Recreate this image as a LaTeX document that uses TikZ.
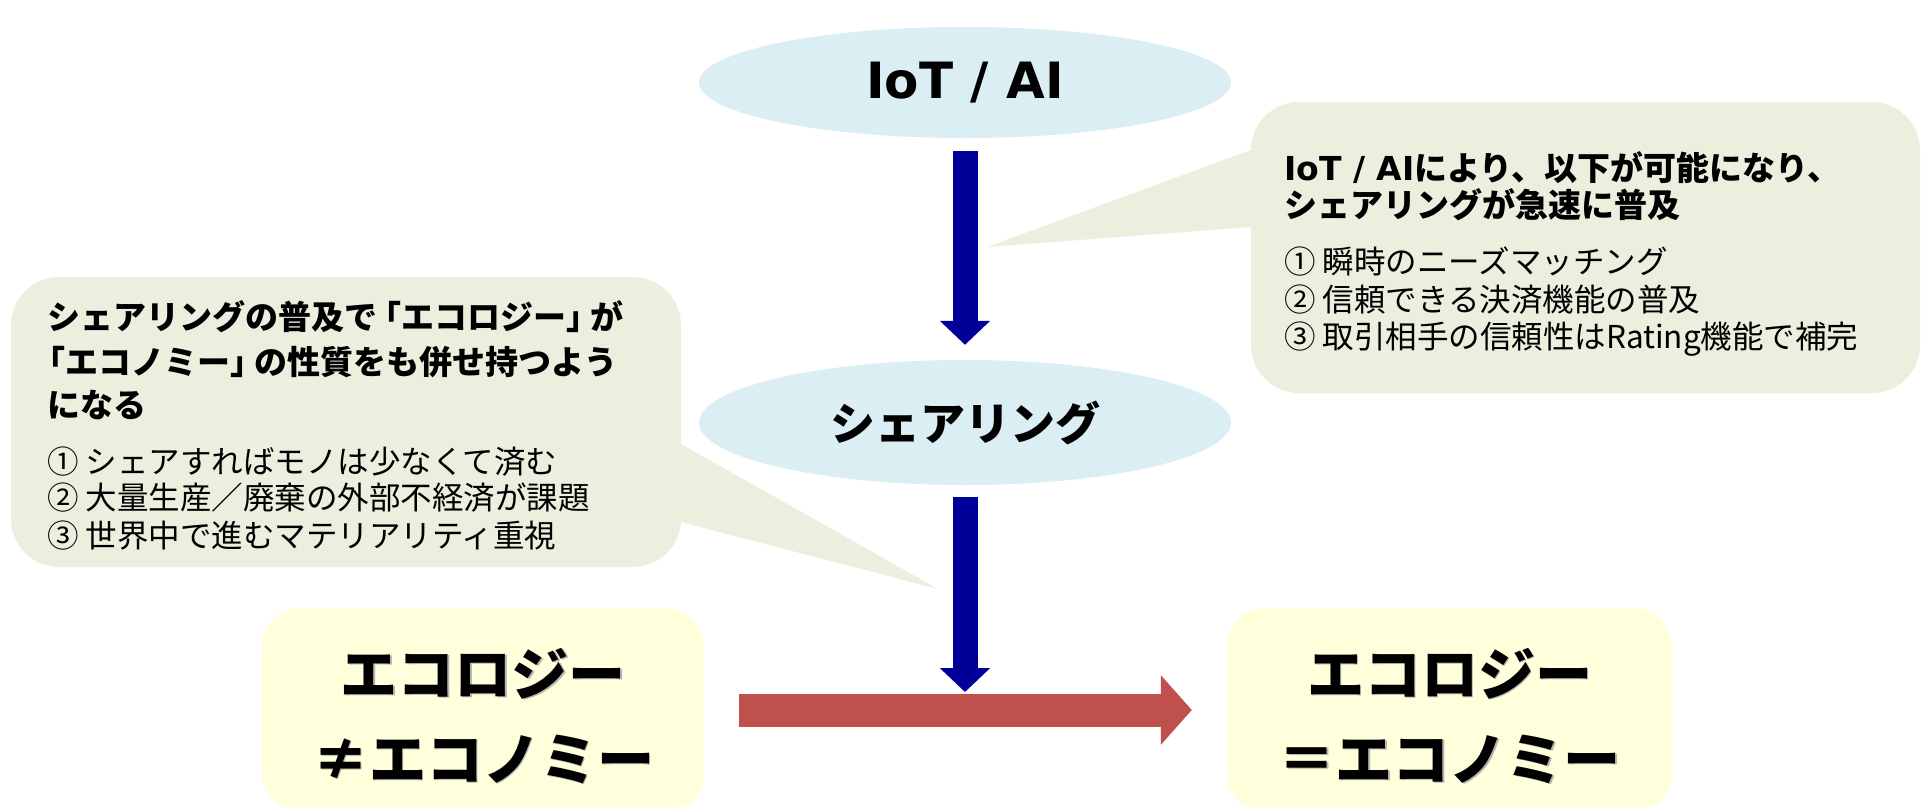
\documentclass[tikz,border=0pt]{standalone}
\usepackage{fontspec}
\setmainfont{Noto Sans CJK JP}
\newfontfamily\latinb{DejaVu Sans}
\usetikzlibrary{shapes.geometric,arrows.meta}

\definecolor{ellblue}{HTML}{DAEEF3}
\definecolor{callfill}{HTML}{EBEFDE}
\definecolor{ecofill}{HTML}{FFFFDC}
\definecolor{navyc}{HTML}{000099}
\definecolor{redc}{HTML}{C0504D}
\definecolor{shadowc}{HTML}{B4B4B4}

\newcommand\fsz[2]{\fontsize{#1pt}{#2pt}\selectfont}
% tighter corner brackets inside running text
\newcommand\lbr{\kern-9pt「}
\newcommand\rbr{」\kern-9pt}
% text with a soft grey drop shadow
\newcommand\shtext[1]{\rlap{\kern1.5pt\raisebox{-1.5pt}{\textcolor{shadowc}{#1}}}#1}

\begin{document}
\begin{tikzpicture}[x=1pt,y=-1pt,
  bubble/.style={ellipse, fill=ellblue, minimum width=532pt, inner sep=0pt},
  callout/.style={rectangle, rounded corners=48pt, fill=callfill, inner sep=0pt},
  tail/.style={fill=callfill, rounded corners=3pt},
  ecobox/.style={rectangle, rounded corners=38pt, fill=ecofill,
    minimum width=442pt, minimum height=204pt, inner sep=0pt,
    align=center, font=\bfseries\fsz{57}{85}},
  head/.style={anchor=base west, inner sep=0pt, font=\bfseries\fsz{33}{40}},
  item/.style={anchor=base west, inner sep=0pt, font=\fsz{31.5}{37}},
  bluearrow/.style={draw=navyc, line width=25pt, -{Triangle[width=49pt,length=24pt]}},
  redarrow/.style={draw=redc, line width=33pt, -{Triangle[width=68pt,length=31pt]}}]

\useasboundingbox (0,0) rectangle (1927,806);
\clip (0,0) rectangle (1927,806);

% the two stages as ellipses
\node[bubble, minimum height=111pt, font=\latinb\bfseries\fsz{50}{50}] (iot) at (965,82.5) {IoT / AI};
\node[bubble, minimum height=125pt, font=\bfseries\fsz{45}{45}] (share) at (965,422.5) {シェアリング};

% outcome boxes (bottom edge runs off the page)
\node[ecobox] (ecoL) at (483,710) {\rule{0pt}{60pt}\shtext{エコロジー}\\\shtext{≠エコノミー}};
\node[ecobox, minimum width=445pt] (ecoR) at (1449.5,710) {\rule{0pt}{60pt}\shtext{エコロジー}\\\shtext{＝エコノミー}};

% flow arrows
\coordinate (meet) at (965,692);
\draw[bluearrow] ([yshift=-13pt]iot.south) -- ([yshift=15pt]share.north);
\draw[bluearrow] ([yshift=-12pt]share.south) -- (meet);
\draw[redarrow] ([xshift=35pt]ecoL.east) -- ([xshift=-35pt]ecoR.west);

% right speech bubble
\fill[tail] (1280,139.3) -- (987,247) -- (1280,224.8) -- cycle;
\node[callout, minimum width=669pt, minimum height=291pt] (callR) at (1585.5,247.5) {};
\node[head] (rh1) at (1284,180) {{\latinb IoT / AI}により、以下が可能になり、};
\node[head] (rh2) at (1284,217) {シェアリングが急速に普及};
\node[item] (ri1) at (1284,273.5) {① 瞬時のニーズマッチング};
\node[item] (ri2) at (1284,311.5) {② 信頼できる決済機能の普及};
\node[item] (ri3) at (1284,348.5) {③ 取引相手の信頼性はRating機能で補完};

% left speech bubble
\fill[tail] (650,426.5) -- (938,589) -- (650,513.9) -- cycle;
\node[callout, minimum width=670pt, minimum height=290pt] (callL) at (346,422) {};
\node[head] (lh1) at (47,329) {シェアリングの普及で\lbr エコロジー\rbr が};
\node[head] (lh2) at (47,374) {\kern-15pt「エコノミー\rbr の性質をも併せ持つよう};
\node[head] (lh3) at (47,417) {になる};
\node[item] (li1) at (47,473.5) {① シェアすればモノは少なくて済む};
\node[item] (li2) at (47,509.5) {② 大量生産／廃棄の外部不経済が課題};
\node[item] (li3) at (47,547.5) {③ 世界中で進むマテリアリティ重視};

\end{tikzpicture}
\end{document}
